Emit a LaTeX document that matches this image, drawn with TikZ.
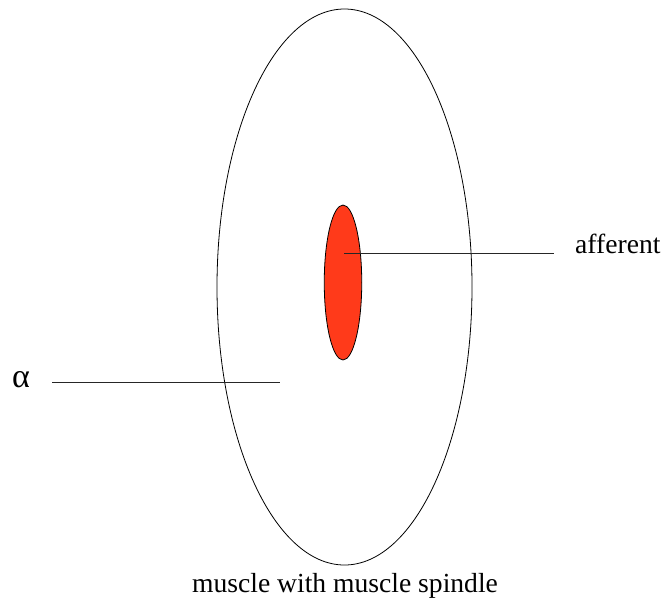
\documentclass[tikz,border=0pt]{standalone}
\usepackage{fontspec}
\setmainfont{Liberation Serif}
\usetikzlibrary{shapes.geometric}
\definecolor{spindlered}{HTML}{FF3A1A}
\begin{document}
\begin{tikzpicture}[x=1pt,y=-1pt,
  lbl/.style={font=\fontsize{27.6}{32}\selectfont, inner sep=0pt},
  conn/.style={line width=1.5pt, black!85}]
\useasboundingbox (0,0) rectangle (672,606);
\node[ellipse, draw, line width=0.8pt, minimum width=255pt, minimum height=556pt, inner sep=0pt] (muscle) at (344.5,287) {};
\node[ellipse, draw, line width=0.8pt, fill=spindlered, minimum width=37.5pt, minimum height=155pt, inner sep=0pt] (spindle) at (343,282.5) {};
\coordinate (affstart) at (344,253.5);
\coordinate (affend) at (554,253.5);
\draw[conn] (affstart) -- (affend);
\node[lbl, anchor=west] (afferent) at (575,244) {afferent};
\coordinate (alphastart) at (52,382.5);
\coordinate (alphaend) at (280,382.5);
\draw[conn] (alphastart) -- (alphaend);
\node[lbl, font=\fontsize{34}{38}\selectfont, anchor=west] (alpha) at (12,380) {α};
\node[lbl] (caption) at (345,586) {muscle with muscle spindle};
\end{tikzpicture}
\end{document}
